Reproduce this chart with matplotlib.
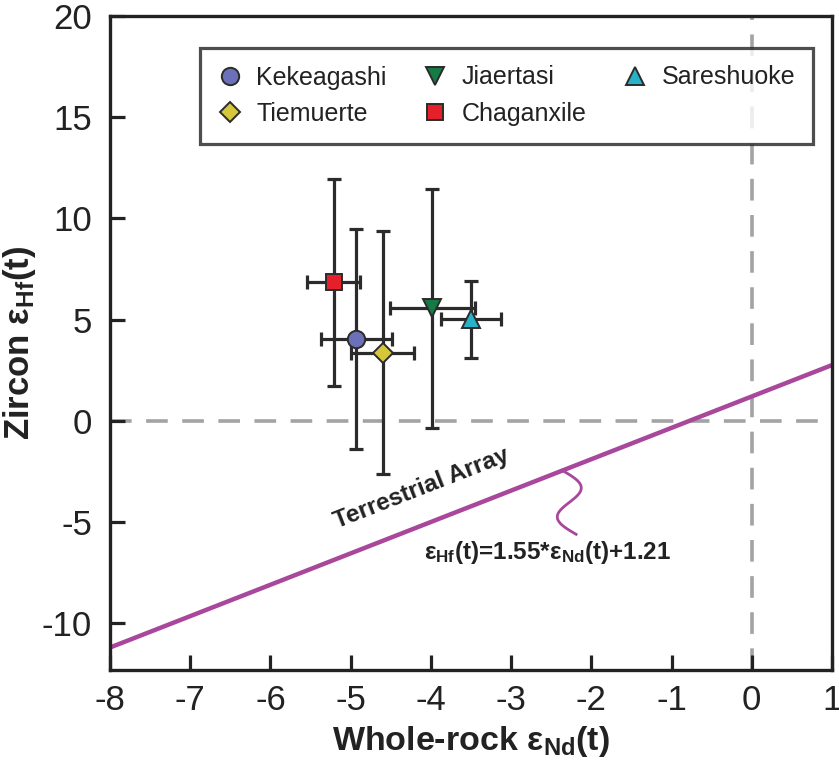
import matplotlib
matplotlib.use("Agg")
import matplotlib.pyplot as plt
import numpy as np

plt.rcParams['font.family'] = ['Liberation Sans', 'DejaVu Sans']
plt.rcParams['axes.unicode_minus'] = False
plt.rcParams['mathtext.fontset'] = 'custom'
plt.rcParams['mathtext.rm'] = 'Liberation Sans'
plt.rcParams['mathtext.bf'] = 'Liberation Sans:bold'
plt.rcParams['mathtext.it'] = 'Liberation Sans:italic'

# Data
names = ['Kekeagashi', 'Tiemuerte', 'Jiaertasi', 'Chaganxile', 'Sareshuoke']
eps_nd = [-4.93, -4.60, -3.98, -5.21, -3.50]
eps_nd_err = [0.44, 0.39, 0.53, 0.33, 0.38]
eps_hf = [4.05, 3.37, 5.56, 6.85, 5.02]
eps_hf_err = [5.45, 6.0, 5.9, 5.1, 1.9]
markers = ['o', 'D', 'v', 's', '^']
colors = ['#6b70b8', '#d6c63c', '#167a45', '#e5202b', '#27b2c8']
sizes = [12.5, 10.5, 12.5, 11, 12.5]

slope, intercept = 1.55, 1.21
xlim = (-8, 1)
ylim = (-12.3, 20)

W, H = 839, 765
fig = plt.figure(figsize=(W / 100, H / 100), dpi=100)
ax = fig.add_axes([110 / W, 1 - 670 / H, 722 / W, 654 / H])

dark = '#222222'
# reference dashed lines
ax.axhline(0, color='#a3a3a3', lw=2.6, ls=(0, (6, 4)), zorder=1)
ax.axvline(0, color='#a3a3a3', lw=2.6, ls=(0, (6, 4)), zorder=1)

# terrestrial array
xs = np.array(xlim, dtype=float)
ax.plot(xs, slope * xs + intercept, color='#a8479b', lw=3.2, zorder=2, solid_capstyle='butt')

# error bars and points
for n, x, xe, y, ye, m, c, s in zip(names, eps_nd, eps_nd_err, eps_hf, eps_hf_err, markers, colors, sizes):
    ax.errorbar(x, y, xerr=xe, yerr=ye, fmt='none', ecolor='#2b2b2b', elinewidth=2.3,
                capsize=5, capthick=2.3, zorder=3)
    ax.plot(x, y, marker=m, ms=s, mfc=c, mec='#2b2b2b', mew=1.4, ls='none', label=n, zorder=4)

ax.set_xlim(*xlim)
ax.set_ylim(*ylim)
ax.set_xticks(np.arange(-8, 2, 1))
ax.set_yticks(np.arange(-10, 25, 5))
ax.tick_params(direction='in', length=11, width=2.3, labelsize=25, colors=dark)
ax.tick_params(axis='x', pad=10)
ax.tick_params(axis='y', pad=13)
for sp in ax.spines.values():
    sp.set_linewidth(2.4)
    sp.set_color(dark)

ax.set_xlabel(r'Whole-rock ε$_{\mathbf{Nd}}$(t)', fontsize=24.5, fontweight='bold', labelpad=5,
              color=dark)
ax.set_ylabel(r'Zircon ε$_{\mathbf{Hf}}$(t)', fontsize=25, fontweight='bold', labelpad=3,
              color=dark)

# annotations
ang = np.degrees(np.arctan(slope * (654 / (ylim[1] - ylim[0])) / (722 / (xlim[1] - xlim[0]))))
ax.text(-4.12, -3.35, 'Terrestrial Array', rotation=ang, rotation_mode='anchor',
        ha='center', va='center', fontsize=17.5, fontweight='bold', color=dark)
ax.text(-2.55, -6.5, r'ε$_{\mathbf{Hf}}$(t)=1.55*ε$_{\mathbf{Nd}}$(t)+1.21',
        ha='center', va='center', fontsize=17.5, fontweight='bold', color=dark)

# squiggle connector
x0 = -2.36
t = np.linspace(0, 1, 60)
sx = x0 + 0.17 * t + 0.19 * np.sin(2 * np.pi * t)
sy = (slope * x0 + intercept) - 3.15 * t
ax.plot(sx, sy, color='#a8479b', lw=2, zorder=2)

leg = ax.legend(ncol=3, loc='upper left', bbox_to_anchor=((200 - 110) / 722, (670 - 48) / 654),
                borderaxespad=0, fontsize=18, frameon=True, fancybox=False, edgecolor=dark,
                handletextpad=0.55, columnspacing=1.45, borderpad=0.7, labelspacing=0.5,
                handlelength=1.0)
leg.get_frame().set_linewidth(2.3)
for txt in leg.get_texts():
    txt.set_color(dark)

fig.savefig('out.png', dpi=100)
